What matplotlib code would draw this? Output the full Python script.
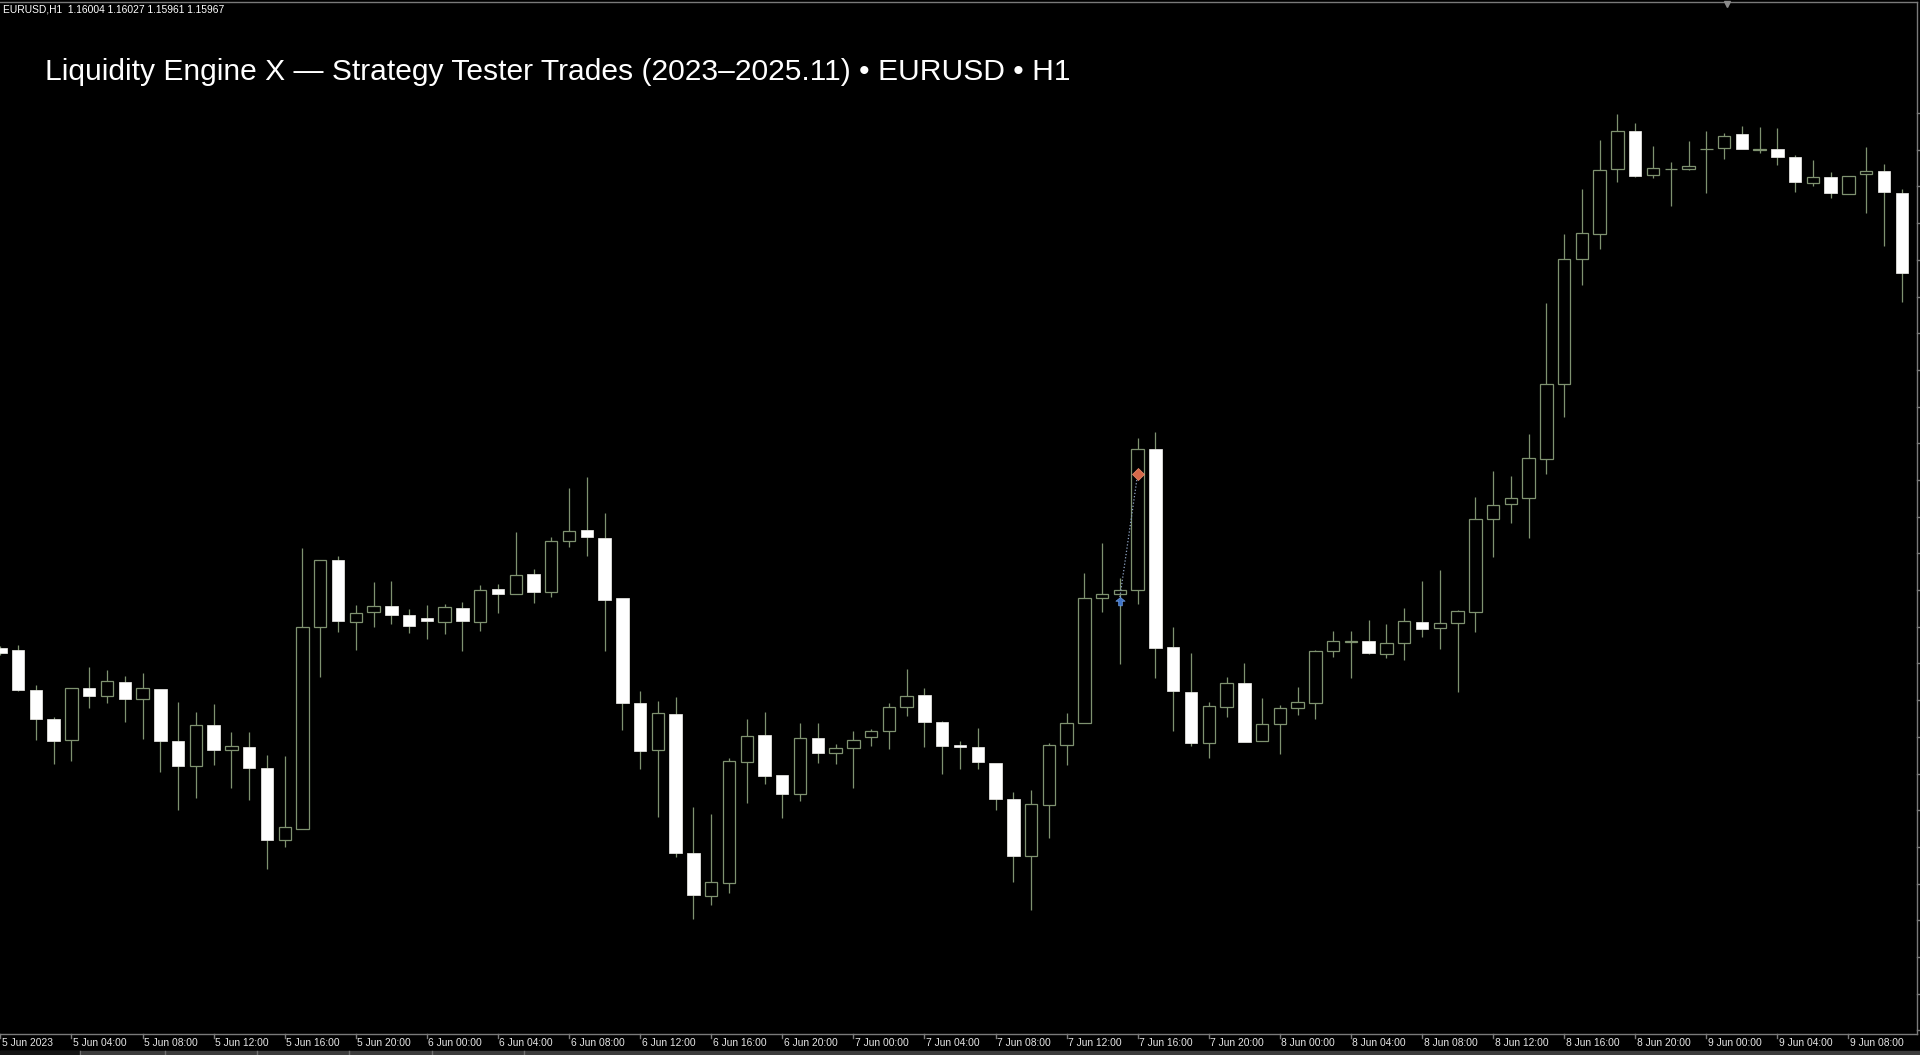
import numpy as np
import pandas as pd
import matplotlib
matplotlib.use('Agg')
import matplotlib.pyplot as plt
from matplotlib.path import Path

# EURUSD H1 bars from 5 Jun 2023 00:00
opens = [1.07352, 1.07350, 1.07310, 1.07281, 1.07260, 1.07312, 1.07304, 1.07318, 1.07301, 1.07311,
         1.07259, 1.07234, 1.07275, 1.07250, 1.07253, 1.07232, 1.07160, 1.07171, 1.07373, 1.07440,
         1.07378, 1.07388, 1.07394, 1.07385, 1.07382, 1.07378, 1.07392, 1.07378, 1.07411, 1.07406,
         1.07426, 1.07408, 1.07459, 1.07470, 1.07462, 1.07402, 1.07297, 1.07250, 1.07286, 1.07147,
         1.07104, 1.07117, 1.07238, 1.07265, 1.07225, 1.07206, 1.07262, 1.07247, 1.07252, 1.07263,
         1.07269, 1.07293, 1.07305, 1.07278, 1.07255, 1.07253, 1.07237, 1.07201, 1.07144, 1.07195,
         1.07255, 1.07277, 1.07402, 1.07406, 1.07410, 1.07551, 1.07353, 1.07308, 1.07257, 1.07293,
         1.07317, 1.07259, 1.07276, 1.07292, 1.07297, 1.07349, 1.07358, 1.07359, 1.07346, 1.07357,
         1.07378, 1.07372, 1.07377, 1.07388, 1.07481, 1.07496, 1.07502, 1.07541, 1.07616, 1.07741,
         1.07766, 1.07831, 1.07869, 1.07825, 1.07831, 1.07831, 1.07851, 1.07852, 1.07866, 1.07850,
         1.07851, 1.07843, 1.07817, 1.07823, 1.07806, 1.07826, 1.07829, 1.07807]
highs = [1.07354, 1.07355, 1.07315, 1.07283, 1.07312, 1.07333, 1.07330, 1.07324, 1.07327, 1.07311,
         1.07298, 1.07288, 1.07296, 1.07268, 1.07268, 1.07245, 1.07244, 1.07452, 1.07440, 1.07444,
         1.07395, 1.07418, 1.07419, 1.07391, 1.07395, 1.07396, 1.07398, 1.07415, 1.07416, 1.07468,
         1.07431, 1.07463, 1.07512, 1.07523, 1.07487, 1.07402, 1.07309, 1.07299, 1.07303, 1.07193,
         1.07186, 1.07242, 1.07281, 1.07288, 1.07225, 1.07277, 1.07277, 1.07256, 1.07269, 1.07271,
         1.07297, 1.07331, 1.07312, 1.07279, 1.07259, 1.07272, 1.07237, 1.07208, 1.07210, 1.07257,
         1.07287, 1.07427, 1.07457, 1.07422, 1.07562, 1.07568, 1.07373, 1.07347, 1.07298, 1.07323,
         1.07337, 1.07302, 1.07295, 1.07313, 1.07350, 1.07369, 1.07369, 1.07380, 1.07376, 1.07392,
         1.07419, 1.07430, 1.07390, 1.07503, 1.07529, 1.07524, 1.07566, 1.07697, 1.07766, 1.07811,
         1.07860, 1.07886, 1.07877, 1.07854, 1.07838, 1.07859, 1.07869, 1.07867, 1.07874, 1.07873,
         1.07872, 1.07845, 1.07840, 1.07828, 1.07824, 1.07853, 1.07836, 1.07811]
lows = [1.07345, 1.07309, 1.07260, 1.07236, 1.07239, 1.07292, 1.07297, 1.07278, 1.07261, 1.07228,
        1.07190, 1.07202, 1.07235, 1.07212, 1.07200, 1.07131, 1.07153, 1.07171, 1.07323, 1.07368,
        1.07350, 1.07373, 1.07376, 1.07367, 1.07361, 1.07366, 1.07349, 1.07369, 1.07387, 1.07406,
        1.07397, 1.07403, 1.07453, 1.07444, 1.07349, 1.07270, 1.07231, 1.07183, 1.07143, 1.07081,
        1.07095, 1.07107, 1.07197, 1.07216, 1.07182, 1.07199, 1.07237, 1.07236, 1.07212, 1.07254,
        1.07251, 1.07284, 1.07253, 1.07226, 1.07231, 1.07231, 1.07190, 1.07118, 1.07090, 1.07162,
        1.07235, 1.07277, 1.07388, 1.07336, 1.07396, 1.07322, 1.07269, 1.07254, 1.07242, 1.07283,
        1.07258, 1.07259, 1.07246, 1.07285, 1.07281, 1.07343, 1.07322, 1.07346, 1.07342, 1.07340,
        1.07363, 1.07351, 1.07308, 1.07368, 1.07443, 1.07477, 1.07462, 1.07526, 1.07583, 1.07715,
        1.07751, 1.07818, 1.07823, 1.07822, 1.07794, 1.07830, 1.07807, 1.07841, 1.07851, 1.07847,
        1.07835, 1.07808, 1.07814, 1.07802, 1.07806, 1.07787, 1.07754, 1.07698]
closes = [1.07347, 1.07310, 1.07281, 1.07259, 1.07312, 1.07304, 1.07319, 1.07301, 1.07312, 1.07259,
          1.07234, 1.07275, 1.07250, 1.07254, 1.07232, 1.07160, 1.07173, 1.07373, 1.07440, 1.07379,
          1.07387, 1.07394, 1.07385, 1.07374, 1.07379, 1.07393, 1.07379, 1.07410, 1.07406, 1.07425,
          1.07408, 1.07459, 1.07469, 1.07463, 1.07400, 1.07297, 1.07249, 1.07287, 1.07147, 1.07105,
          1.07118, 1.07239, 1.07264, 1.07224, 1.07206, 1.07262, 1.07247, 1.07252, 1.07260, 1.07269,
          1.07293, 1.07304, 1.07278, 1.07254, 1.07253, 1.07238, 1.07201, 1.07144, 1.07196, 1.07255,
          1.07277, 1.07402, 1.07406, 1.07410, 1.07551, 1.07352, 1.07309, 1.07257, 1.07294, 1.07317,
          1.07258, 1.07276, 1.07292, 1.07298, 1.07349, 1.07359, 1.07359, 1.07347, 1.07357, 1.07379,
          1.07371, 1.07377, 1.07389, 1.07481, 1.07495, 1.07502, 1.07542, 1.07616, 1.07741, 1.07767,
          1.07830, 1.07869, 1.07824, 1.07832, 1.07831, 1.07834, 1.07851, 1.07864, 1.07851, 1.07851,
          1.07843, 1.07818, 1.07823, 1.07807, 1.07824, 1.07829, 1.07808, 1.07727]

# the one tester trade visible: buy, closed one bar later
entry_bar, entry_price = 63, 1.07403
exit_bar, exit_price = 64, 1.07526

header = 'EURUSD,H1  1.16004 1.16027 1.15961 1.15967'
title = 'Liquidity Engine X \u2014 Strategy Tester Trades (2023\u20132025.11) \u2022 EURUSD \u2022 H1'

times = pd.date_range('2023-06-05 00:00', periods=len(opens), freq='h')
label_bars = list(range(0, len(opens), 4))
labels = ['5 Jun 2023' if i == 0 else f'{times[i].day} Jun {times[i]:%H:%M}' for i in label_bars]

W, H = 1920, 1055
BAR_PX = 17.77
WICK = '#7f9270'
GRID = '#7a7a7a'
FONT = ['Liberation Sans', 'DejaVu Sans']

fig = plt.figure(figsize=(W / 100, H / 100), dpi=100, facecolor='black')
ax = fig.add_axes([0, 0, 1, 1])
ax.set_facecolor('black')
ax.axis('off')
x0 = -0.4 / BAR_PX
ax.set_xlim(x0, x0 + W / BAR_PX)
ax.set_ylim(1.06945, 1.08000)

o = np.array(opens)
h = np.array(highs)
l = np.array(lows)
c = np.array(closes)
x = np.arange(len(o))
up = c >= o
lo = np.minimum(o, c)
hi = np.maximum(o, c)

# wicks (split so they don't cross hollow bodies)
ax.vlines(x, hi, h, color=WICK, lw=0.9, zorder=1)
ax.vlines(x, l, lo, color=WICK, lw=0.9, zorder=1)
# bull = hollow, bear = white filled
ax.bar(x[up], (hi - lo)[up], bottom=lo[up], width=0.7, facecolor='black',
       edgecolor=WICK, lw=0.9, zorder=2)
ax.bar(x[~up], (hi - lo)[~up], bottom=lo[~up], width=0.7, facecolor='white',
       edgecolor='#f4f4f0', lw=0.5, zorder=2)

# trade: dotted link, buy arrow under entry, close marker at exit
ax.plot([entry_bar, exit_bar], [entry_price, exit_price], ls=(0, (1, 1.6)),
        color='#8ea4c4', lw=0.9, zorder=3)
arrow = Path([(0, 0), (-0.55, -0.45), (-0.22, -0.45), (-0.22, -1), (0.22, -1),
              (0.22, -0.45), (0.55, -0.45), (0, 0)],
             [Path.MOVETO] + [Path.LINETO] * 6 + [Path.CLOSEPOLY])
ax.plot(entry_bar, entry_price, marker=arrow, ms=12, color='#3f74c8',
        mec='#6d9be0', mew=0.5, zorder=4)
ax.plot(exit_bar, exit_price, marker='D', ms=6, color='#d6694a',
        mec='#f09070', mew=0.5, zorder=4)


def fx(px):
    return px / W


def fy(py):
    return 1 - py / H


def hline(y, x1, x2, color=GRID, lw=1.0):
    fig.add_artist(plt.Line2D([fx(x1), fx(x2)], [fy(y), fy(y)], color=color,
                              lw=lw, transform=fig.transFigure))


def vline(xp, y1, y2, color=GRID, lw=1.0):
    fig.add_artist(plt.Line2D([fx(xp), fx(xp)], [fy(y1), fy(y2)], color=color,
                              lw=lw, transform=fig.transFigure))


# chart window frame
hline(2, 0, 1917)
vline(1917, 2, 1034)
for ty in np.arange(113, 1034, 36.7):
    hline(ty, 1917, 1920)
fig.add_artist(plt.Line2D([fx(1727)], [fy(4)], marker='v', ms=4, color='#8a8a8a',
                          transform=fig.transFigure))

# time axis
hline(1034, 0, 1917)
for i, lab in zip(label_bars, labels):
    xp = 0.4 + BAR_PX * i
    vline(xp, 1034, 1038)
    fig.text(fx(xp + 1.5), fy(1046.5), lab, color='#e6e6e6', fontsize=7.4,
             family=FONT, ha='left', va='baseline')

# terminal tab strip at the very bottom
fig.add_artist(plt.Rectangle((0, 0), 1, fy(1051), color='#3c3c3c',
                             transform=fig.transFigure))
fig.add_artist(plt.Rectangle((0, 0), fx(80), fy(1051), color='#141414',
                             transform=fig.transFigure))
for sx in [80, 165, 257, 349, 432, 524]:
    vline(sx, 1051, 1055, color='#707070')

# header and title
fig.text(fx(3), fy(12.5), header, color='white', fontsize=7.4, family=FONT,
         ha='left', va='baseline')
fig.text(fx(45), fy(80), title, color='white', fontsize=21.6, family=FONT,
         ha='left', va='baseline')

fig.savefig('out.png', dpi=100, facecolor='black')
